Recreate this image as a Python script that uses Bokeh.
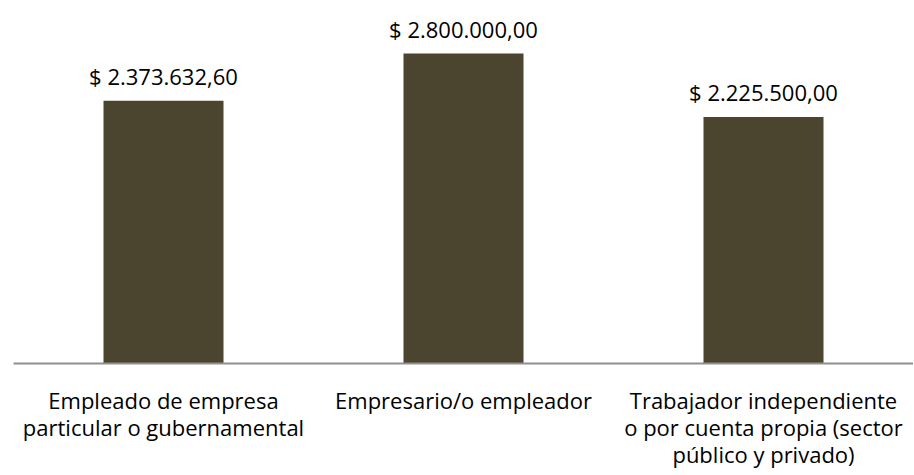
from bokeh.plotting import figure
from bokeh.models import ColumnDataSource, Range1d, FactorRange
from bokeh.core.properties import value
from bokeh.embed import file_html
from bokeh.resources import INLINE

categories = [
    "Empleado de empresa\nparticular o gubernamental",
    "Empresario/o empleador",
    "Trabajador independiente\no por cuenta propia (sector\npúblico y privado)",
]
values = [2373632.60, 2800000.00, 2225500.00]


def fmt(v):
    s = f"{v:,.2f}"
    s = s.replace(",", "X").replace(".", ",").replace("X", ".")
    return "$ " + s


labels = [fmt(v) for v in values]

FONT = "Open Sans"
BAR = "#4b4530"

src = ColumnDataSource(dict(cat=categories, val=values, lab=labels))

p = figure(
    x_range=FactorRange(*categories, range_padding=0),
    y_range=Range1d(0, 3278710),
    width=913, height=475,
    output_backend="svg", toolbar_location=None,
    min_border_left=13, min_border_right=0, min_border_top=0, min_border_bottom=112,
)
p.x_range.group_padding = 0
p.x_range.factor_padding = 0

p.vbar(x="cat", top="val", width=0.4, source=src, color=BAR, line_color=None)
p.text(x="cat", y="val", text="lab", source=src, text_align="center",
       text_baseline="alphabetic", y_offset=-25, text_font=value(FONT),
       text_font_size="22px", text_color="#000000")

p.yaxis.visible = False
p.xgrid.visible = False
p.ygrid.visible = False
p.outline_line_color = None
p.background_fill_color = None
p.border_fill_color = None

ax = p.xaxis[0]
ax.axis_line_color = "#8f8f8f"
ax.axis_line_width = 2
ax.major_tick_line_color = None
ax.minor_tick_line_color = None
ax.major_label_standoff = 15
ax.major_label_text_font = FONT
ax.major_label_text_font_size = "22px"
ax.major_label_text_line_height = 0.9
ax.major_label_text_color = "#000000"
ax.major_label_orientation = "horizontal"

open("out.html", "w").write(file_html(p, INLINE))
